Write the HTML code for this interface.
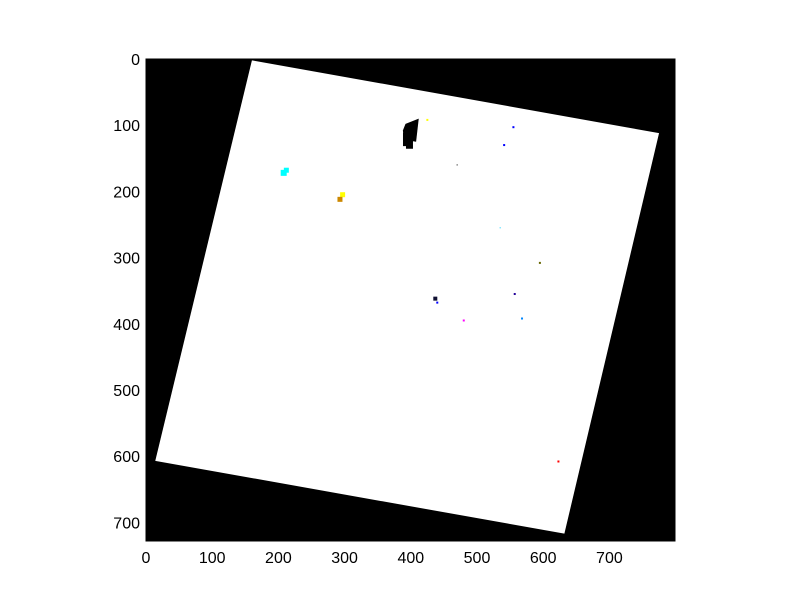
<!DOCTYPE html>
<html><head><meta charset="utf-8"><style>
html,body{margin:0;padding:0;background:#fff;}
svg{display:block;font-family:"Liberation Sans","DejaVu Sans",sans-serif;}
</style></head><body>
<svg width="800" height="600">
<g id="plot"></g>
</svg>
<script>
const xTicks=[0,100,200,300,400,500,600,700];
const yTicks=[0,100,200,300,400,500,600,700];
// image footprint corners in data coords (x,y)
const cornerX=[160,775,632,14];
const cornerY=[2,112,717,607];
// specks: data coords + color + size
const speckX=[400,395,398,208,212,297,293,437,440,555,541,595,568,623,480,470,535,557,425];
const speckY=[110,118,125,172,168,205,212,362,368,103,130,308,392,608,395,160,255,355,92];
const speckC=['#000','#000','#000','#0ff','#0ff','#ff0','#c80','#113','#00f','#00f','#00f','#660','#08f','#f00','#f0f','#000','#0cf','#209','#ff0'];
const speckS=[8,9,7,6,5,5,5,4,2,2,2,2,2,2,2,1,1,2,2];

const L=146,T=59,W=529,H=482,S=0.662;
const sx=v=>L+v*S, sy=v=>T+v*S;
const NS='http://www.w3.org/2000/svg';
const g=document.getElementById('plot');
function mk(t,a){const e=document.createElementNS(NS,t);for(const k in a)e.setAttribute(k,a[k]);g.appendChild(e);return e;}
const bg=mk('rect',{x:L,y:T,width:W,height:H,fill:'#000'});


const pts=cornerX.map((x,i)=>sx(x)+','+sy(cornerY[i])).join(' ');
const poly=mk('polygon',{points:pts,fill:'#fff'});


speckX.forEach((x,i)=>{
  const s=speckS[i];
  const r=mk('rect',{x:sx(x)-s/2,y:sy(speckY[i])-s/2,width:s,height:s*(i<3?1.5:1),fill:speckC[i]});
  
  
});
// big dark blob
const blob=mk('polygon',{points:[[sx(392),sy(98)],[sx(412),sy(90)],[sx(408),sy(125)],[sx(390),sy(122)],[sx(388),sy(108)]].map(p=>p.join(',')).join(' '),fill:'#000'});


const fr=mk('rect',{x:L,y:T,width:W,height:H,fill:'none',stroke:'#000','stroke-width':1});


xTicks.forEach(v=>{
  const t=mk('text',{x:sx(v),y:T+H+22,'text-anchor':'middle','font-size':16,fill:'#000'});
  t.textContent=v;
  
  
});
yTicks.forEach(v=>{
  const t=mk('text',{x:L-6,y:sy(v)+6,'text-anchor':'end','font-size':16,fill:'#000'});
  t.textContent=v;
  
  
});
</script>
</body></html>
